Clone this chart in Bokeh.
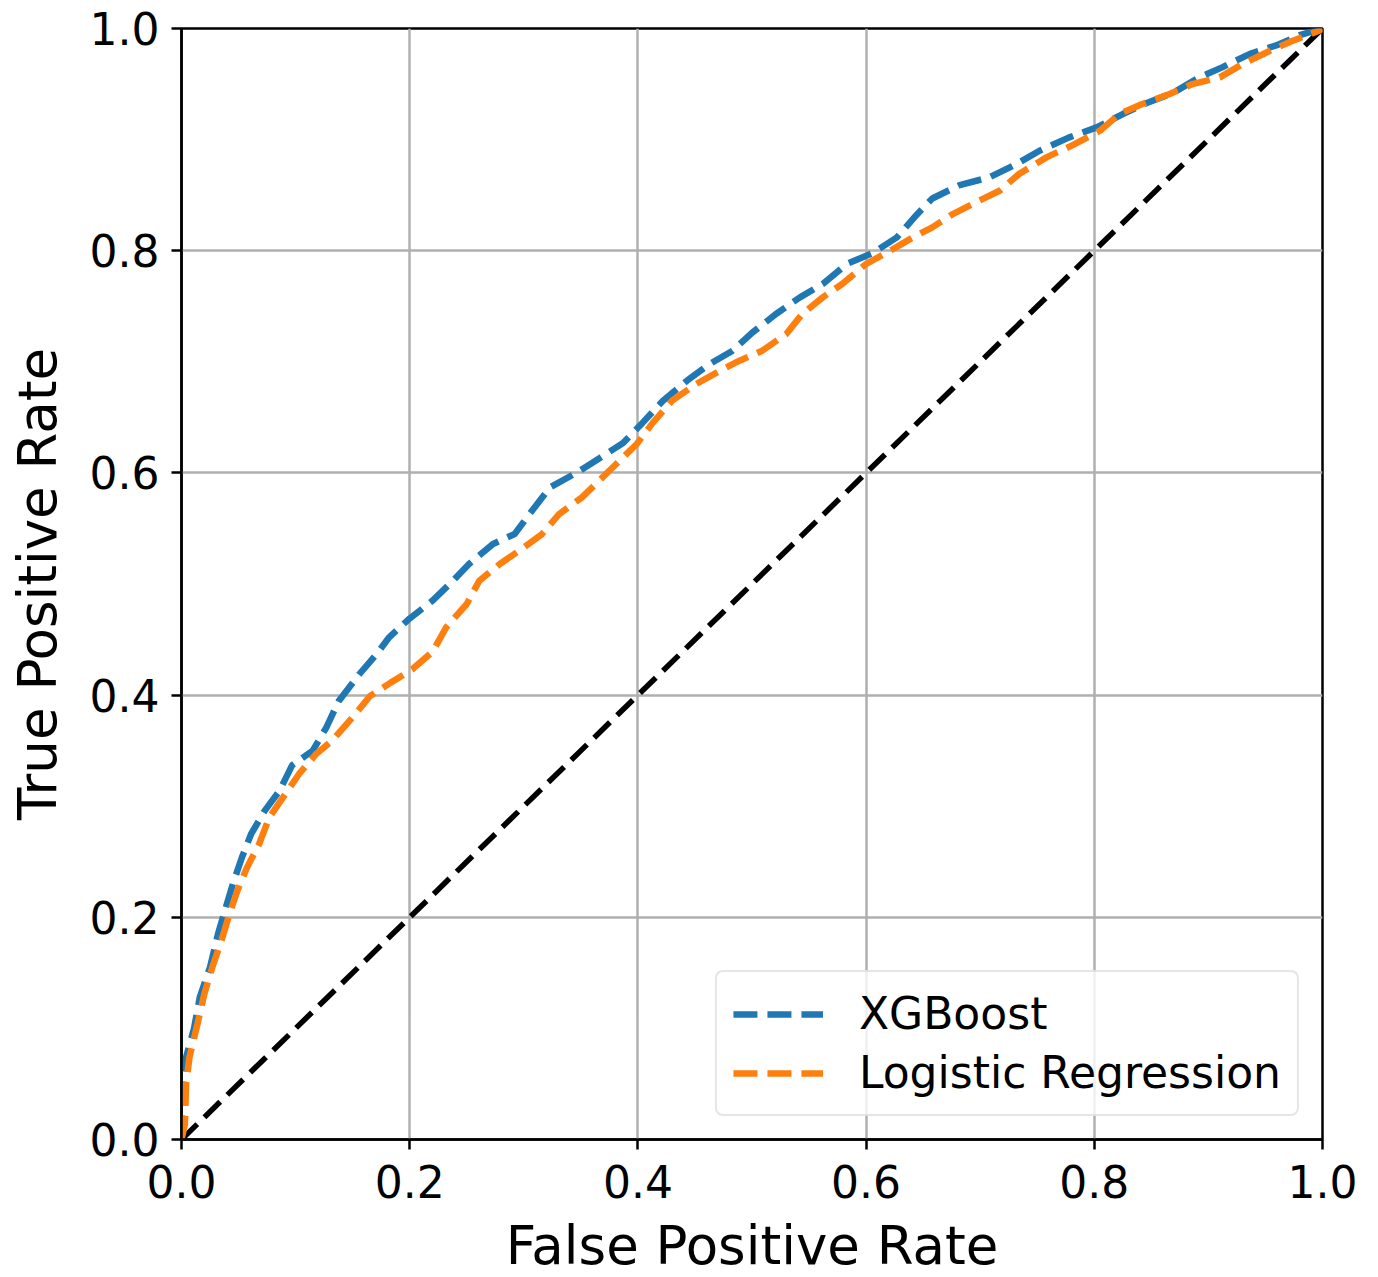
from bokeh.plotting import figure
from bokeh.models import NumeralTickFormatter, FixedTicker, Range1d, Legend, LegendItem
from bokeh.embed import file_html
from bokeh.resources import INLINE

# ---- data ----
xgb_fpr = [0.0, 0.001, 0.004, 0.011, 0.016, 0.025, 0.032, 0.038, 0.045, 0.053, 0.061, 0.073, 0.086, 0.097,
           0.115, 0.127, 0.138, 0.156, 0.171, 0.182, 0.200, 0.220, 0.238, 0.252, 0.273, 0.292, 0.305, 0.323,
           0.346, 0.366, 0.387, 0.404, 0.422, 0.443, 0.463, 0.483, 0.500, 0.521, 0.542, 0.562, 0.583, 0.606,
           0.627, 0.644, 0.658, 0.682, 0.708, 0.730, 0.752, 0.778, 0.802, 0.825, 0.846, 0.869, 0.892, 0.912,
           0.936, 0.960, 0.980, 1.0]
xgb_tpr = [0.0, 0.040, 0.074, 0.100, 0.128, 0.155, 0.185, 0.206, 0.230, 0.254, 0.275, 0.296, 0.314, 0.337,
           0.350, 0.371, 0.395, 0.419, 0.437, 0.452, 0.469, 0.485, 0.503, 0.518, 0.536, 0.545, 0.563, 0.587,
           0.600, 0.613, 0.627, 0.645, 0.665, 0.683, 0.698, 0.710, 0.726, 0.743, 0.758, 0.770, 0.788, 0.798,
           0.812, 0.832, 0.847, 0.859, 0.866, 0.877, 0.890, 0.902, 0.911, 0.923, 0.933, 0.942, 0.956, 0.965,
           0.977, 0.985, 0.994, 1.0]

lr_fpr = [0.0, 0.003, 0.004, 0.007, 0.014, 0.020, 0.027, 0.035, 0.042, 0.049, 0.057, 0.068, 0.077, 0.089,
          0.103, 0.118, 0.132, 0.150, 0.165, 0.183, 0.202, 0.220, 0.232, 0.250, 0.261, 0.279, 0.296, 0.316,
          0.331, 0.351, 0.366, 0.381, 0.399, 0.413, 0.430, 0.451, 0.472, 0.489, 0.509, 0.530, 0.544, 0.562,
          0.579, 0.600, 0.621, 0.641, 0.658, 0.676, 0.699, 0.717, 0.734, 0.758, 0.781, 0.805, 0.822, 0.842,
          0.866, 0.886, 0.910, 0.930, 0.954, 0.974, 0.997, 1.0]
lr_tpr = [0.0, 0.014, 0.050, 0.074, 0.104, 0.131, 0.155, 0.179, 0.203, 0.224, 0.244, 0.266, 0.290, 0.308,
          0.329, 0.347, 0.359, 0.380, 0.399, 0.411, 0.423, 0.439, 0.461, 0.482, 0.503, 0.518, 0.530, 0.545,
          0.563, 0.578, 0.593, 0.608, 0.626, 0.645, 0.665, 0.680, 0.692, 0.701, 0.710, 0.725, 0.743, 0.758,
          0.770, 0.788, 0.800, 0.812, 0.821, 0.833, 0.845, 0.854, 0.869, 0.884, 0.895, 0.908, 0.923, 0.932,
          0.941, 0.950, 0.956, 0.968, 0.980, 0.989, 0.998, 1.0]

chance_x = [0.0, 1.0]
chance_y = [0.0, 1.0]

ticks = [0.0, 0.2, 0.4, 0.6, 0.8, 1.0]
series_names = ["XGBoost", "Logistic Regression"]

FONT = "DejaVu Sans"

p = figure(frame_width=1141, frame_height=1111, output_backend="svg", toolbar_location=None,
           x_range=Range1d(0, 1), y_range=Range1d(0, 1),
           min_border_left=181, min_border_top=28, min_border_right=40, min_border_bottom=0)

p.background_fill_color = "white"
p.border_fill_color = "white"
p.outline_line_color = "black"
p.outline_line_width = 2.5

# grid
for g in (p.xgrid, p.ygrid):
    g.grid_line_color = "#b0b0b0"
    g.grid_line_width = 2.5
    g.ticker = FixedTicker(ticks=ticks)

# axes
for ax in (p.xaxis, p.yaxis):
    ax.ticker = FixedTicker(ticks=ticks)
    ax.formatter = NumeralTickFormatter(format="0.0")
    ax.axis_line_color = "black"
    ax.axis_line_width = 2.5
    ax.major_tick_line_width = 2.5
    ax.major_tick_out = 10
    ax.major_tick_in = 0
    ax.minor_tick_line_color = None
    ax.major_label_text_font = FONT
    ax.major_label_text_font_size = "44px"
    ax.major_label_text_color = "black"
    ax.axis_label_text_font = FONT
    ax.axis_label_text_font_size = "53px"
    ax.axis_label_text_font_style = "normal"
    ax.axis_label_text_color = "black"

p.xaxis.axis_label = "False Positive Rate"
p.yaxis.axis_label = "True Positive Rate"
p.xaxis.major_label_standoff = 15
p.xaxis.axis_label_standoff = 14
p.yaxis.major_label_standoff = 12
p.yaxis.axis_label_standoff = 19

# lines
p.line(chance_x, chance_y, line_color="black", line_width=5.5, line_dash="22 10")
r1 = p.line(xgb_fpr, xgb_tpr, line_color="#1f77b4", line_width=6.5, line_dash="24 10")
r2 = p.line(lr_fpr, lr_tpr, line_color="#ff7f0e", line_width=6.5, line_dash="24 10")

legend = Legend(items=[LegendItem(label=series_names[0], renderers=[r1]),
                       LegendItem(label=series_names[1], renderers=[r2])],
                location="bottom_right")
legend.margin = 23
legend.padding = 16
legend.spacing = 8
legend.glyph_width = 90
legend.glyph_height = 50
legend.label_height = 50
legend.label_standoff = 36
legend.label_text_font = FONT
legend.label_text_font_size = "44px"
legend.label_text_color = "black"
legend.border_line_color = "#cccccc"
legend.border_line_width = 2.5
legend.background_fill_color = "white"
legend.background_fill_alpha = 0.8
if "border_radius" in Legend.properties():
    legend.border_radius = 8
p.add_layout(legend, "center")

open("out.html", "w").write(file_html(p, INLINE))
